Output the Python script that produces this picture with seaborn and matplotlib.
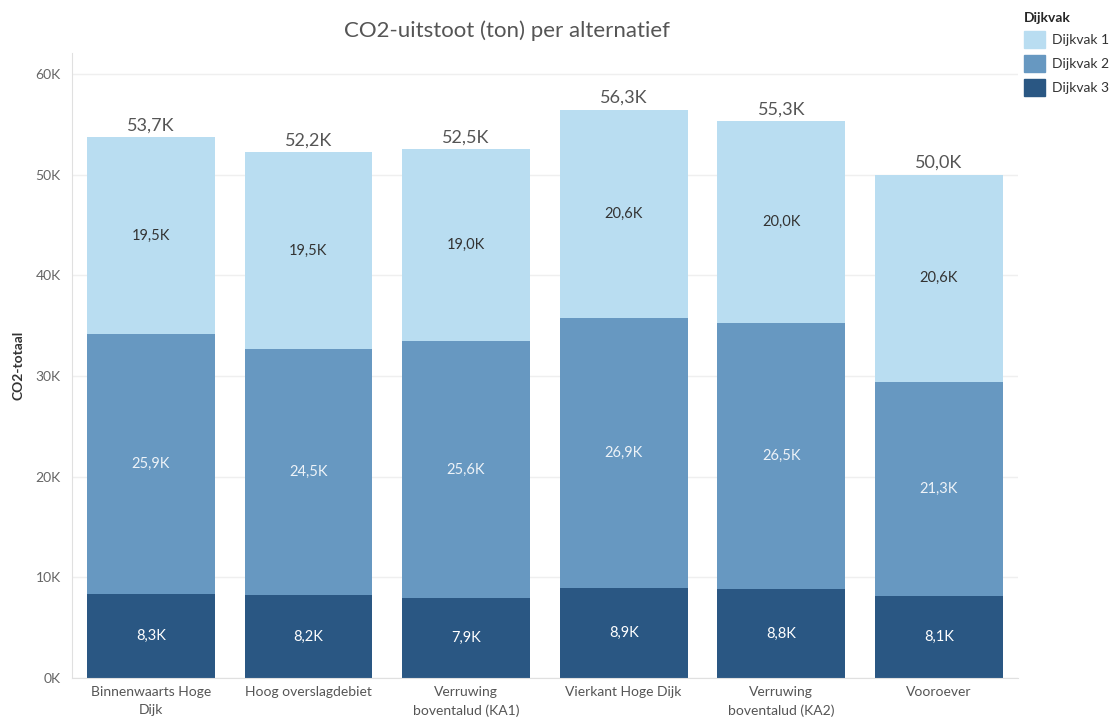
import numpy as np
import pandas as pd
import seaborn as sns
import matplotlib.pyplot as plt
from matplotlib.patches import Patch

# data (in K ton)
alternatieven = ['Binnenwaarts Hoge\nDijk', 'Hoog overslagdebiet', 'Verruwing\nboventalud (KA1)',
                 'Vierkant Hoge Dijk', 'Verruwing\nboventalud (KA2)', 'Vooroever']
dijkvak1 = [19.5, 19.5, 19.0, 20.6, 20.0, 20.6]
dijkvak2 = [25.9, 24.5, 25.6, 26.9, 26.5, 21.3]
dijkvak3 = [8.3, 8.2, 7.9, 8.9, 8.8, 8.1]
totaal = [53.7, 52.2, 52.5, 56.3, 55.3, 50.0]

colors = {'Dijkvak 1': '#b9ddf1', 'Dijkvak 2': '#6798c1', 'Dijkvak 3': '#2a5783'}

sns.set_style('white')
plt.rcParams['font.family'] = ['Lato', 'DejaVu Sans']

df = pd.DataFrame({'alt': alternatieven, 'd1': dijkvak1, 'd2': dijkvak2, 'd3': dijkvak3})
df['top3'] = df['d3']
df['top2'] = df['d3'] + df['d2']
df['top1'] = df['top2'] + df['d1']

fig = plt.figure(figsize=(11.14, 7.22), dpi=100)
ax = fig.add_axes([0.0646, 0.061, 0.849, 0.866])

w = 0.81
sns.barplot(data=df, x='alt', y='top1', color=colors['Dijkvak 1'], width=w, ax=ax, saturation=1, linewidth=0)
sns.barplot(data=df, x='alt', y='top2', color=colors['Dijkvak 2'], width=w, ax=ax, saturation=1, linewidth=0)
sns.barplot(data=df, x='alt', y='top3', color=colors['Dijkvak 3'], width=w, ax=ax, saturation=1, linewidth=0)

# segment labels
for i, row in df.iterrows():
    ax.text(i, row['top3'] / 2, f"{row['d3']:.1f}K".replace('.', ','), ha='center', va='center',
            color='white', fontsize=10.5)
    ax.text(i, row['top3'] + row['d2'] / 2, f"{row['d2']:.1f}K".replace('.', ','), ha='center',
            va='center', color='#eef3f8', fontsize=10.5)
    ax.text(i, row['top2'] + row['d1'] / 2, f"{row['d1']:.1f}K".replace('.', ','), ha='center',
            va='center', color='#333333', fontsize=10.5)
    ax.text(i, row['top1'] + 0.4, f"{totaal[i]:.1f}K".replace('.', ','), ha='center', va='bottom',
            color='#555555', fontsize=13)

ax.set_ylim(0, 62.1)
ax.set_xlim(-0.5, 5.5)
ax.set_yticks(np.arange(0, 61, 10))
ax.set_yticklabels([f'{v}K' for v in range(0, 61, 10)], color='#666666', fontsize=10)
ax.yaxis.grid(True, color='#efefef', linewidth=1)
ax.set_axisbelow(True)
ax.tick_params(axis='y', length=4, color='#e0e0e0', pad=4)
ax.tick_params(axis='x', length=0, pad=6, labelsize=10, labelcolor='#555555')
for t in ax.get_xticklabels():
    t.set_linespacing(1.6)
ax.set_xticks(np.arange(-0.5, 6, 1), minor=True)
ax.tick_params(axis='x', which='minor', length=22, color='#e8e8e8', width=1)
for s in ['top', 'right']:
    ax.spines[s].set_visible(False)
for s in ['left', 'bottom']:
    ax.spines[s].set_color('#e0e0e0')
ax.set_xlabel('')
ax.set_ylabel('CO2-totaal', fontsize=10, fontweight='bold', color='#333333', labelpad=8)

fig.text(0.455, 0.958, 'CO2-uitstoot (ton) per alternatief', ha='center', va='center',
         fontsize=16, color='#555555')

handles = [Patch(facecolor=c, edgecolor=c, label=k) for k, c in colors.items()]
leg = fig.legend(handles=handles, title='Dijkvak', loc='upper left', bbox_to_anchor=(0.908, 1.0),
                 frameon=False, fontsize=10, title_fontproperties={'weight': 'bold', 'size': 10},
                 handlelength=1.5, handleheight=1.5, handletextpad=0.5, labelspacing=0.5)
leg._legend_box.align = 'left'
for t in leg.get_texts():
    t.set_color('#333333')

fig.savefig('out.png', dpi=100)
